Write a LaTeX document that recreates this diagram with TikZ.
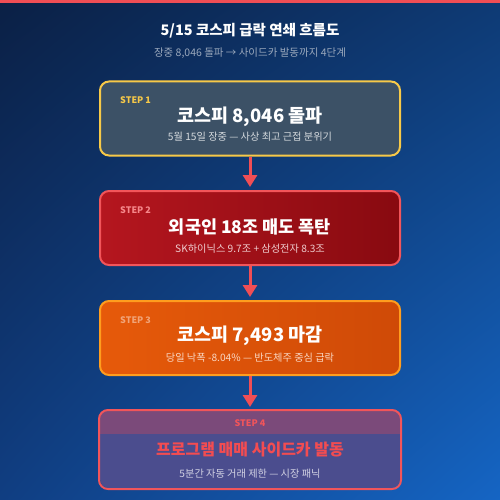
\documentclass[tikz,border=0pt]{standalone}
\usepackage{fontspec}
\setmainfont{Noto Sans CJK KR}
\usetikzlibrary{arrows.meta, shadings}

\definecolor{topbar}{HTML}{F04E55}
\definecolor{bgTL}{HTML}{0B2045}
\definecolor{bgTR}{HTML}{0E3A74}
\definecolor{bgBL}{HTML}{103E82}
\definecolor{bgBR}{HTML}{1565C4}
\definecolor{subgray}{HTML}{9AA8BC}
\definecolor{stepyellow}{HTML}{F7C948}
\definecolor{boxslate}{HTML}{3C5166}
\definecolor{redA}{HTML}{B5161F}
\definecolor{redB}{HTML}{880A10}
\definecolor{redline}{HTML}{F2555A}
\definecolor{orangeA}{HTML}{E65A0A}
\definecolor{orangeB}{HTML}{CF4A07}
\definecolor{orangeline}{HTML}{FF9D1E}
\definecolor{purplebox}{HTML}{4B4D8E}
\definecolor{purpleband}{HTML}{7B4A7A}

\begin{document}
\begin{tikzpicture}[
    x=1pt, y=-1pt,
    every node/.style={inner sep=0pt},
    stepbox/.style={rounded corners=9pt, line width=2pt,
      minimum width=300pt, minimum height=74pt},
    steplabel/.style={anchor=west, font=\fontsize{9}{10}\selectfont\bfseries},
    steptitle/.style={font=\fontsize{17.5}{20}\selectfont\bfseries, text=white},
    stepsub/.style={font=\fontsize{10.2}{12}\selectfont}
    ,
    flowarrow/.style={topbar, line width=3pt,
      -{Triangle[width=14pt,length=12pt]}, shorten >=3pt}
]
  % background
  \shade[upper left=bgTL, upper right=bgTR, lower left=bgBL, lower right=bgBR]
    (0,0) rectangle (500,500);
  \fill[topbar] (0,0) rectangle (500,3);

  % heading
  \node[font=\fontsize{14.5}{17}\selectfont\bfseries, text=white] (title)
    at (250,31) {5/15 코스피 급락 연쇄 흐름도};
  \node[font=\fontsize{10.5}{12}\selectfont, text=subgray] (subtitle)
    at (250,53) {장중 8,046 돌파 → 사이드카 발동까지 4단계};

  % boxes
  \node[stepbox, draw=stepyellow, fill=boxslate] (step1) at (250,118.5) {};
  \node[stepbox, draw=redline, left color=redA, right color=redB]
    (step2) at (250,228) {};
  \node[stepbox, draw=orangeline, left color=orangeA, right color=orangeB]
    (step3) at (250,338) {};
  \node[stepbox, fill=purplebox, minimum height=77pt] (step4) at (250,449.5) {};
  \begin{scope}
    \clip[rounded corners=9pt] (step4.north west) rectangle (step4.south east);
    \fill[purpleband] (step4.north west) rectangle ([yshift=-23.5pt]step4.north east);
  \end{scope}
  \draw[redline, line width=2pt, rounded corners=9pt]
    (step4.north west) rectangle (step4.south east);

  % step 1
  \node[steplabel, text=stepyellow] (label1) at (120,100) {STEP 1};
  \node[steptitle, font=\fontsize{18.5}{21}\selectfont\bfseries] (head1)
    at (250,117) {코스피 8,046 돌파};
  \node[stepsub, text=white!78!boxslate] (note1) at (250,137)
    {5월 15일 장중 — 사상 최고 근접 분위기};

  % step 2
  \node[steplabel, text=redline!70!white] (label2) at (120,210) {STEP 2};
  \node[steptitle] (head2) at (250,227) {외국인 18조 매도 폭탄};
  \node[stepsub, text=white!78!redA] (note2) at (250,249)
    {SK하이닉스 9.7조 + 삼성전자 8.3조};

  % step 3
  \node[steplabel, text=orangeA!55!white] (label3) at (120,320) {STEP 3};
  \node[steptitle, font=\fontsize{18.5}{21}\selectfont\bfseries] (head3)
    at (250,336) {코스피 7,493 마감};
  \node[stepsub, text=white!75!orangeA] (note3) at (250,358)
    {당일 낙폭 -8.04\% — 반도체주 중심 급락};

  % step 4
  \node[steplabel, anchor=center, text=redline] (label4) at (250,423) {STEP 4};
  \node[steptitle, text=redline!90!red, font=\fontsize{16}{19}\selectfont\bfseries]
    (head4) at (250,449.5) {프로그램 매매 사이드카 발동};
  \node[stepsub, text=white!75!purplebox] (note4) at (250,474)
    {5분간 자동 거래 제한 — 시장 패닉};

  % connectors
  \foreach \a/\b in {step1/step2, step2/step3, step3/step4}
    \draw[flowarrow] (\a.south) -- (\b.north);
\end{tikzpicture}
\end{document}
